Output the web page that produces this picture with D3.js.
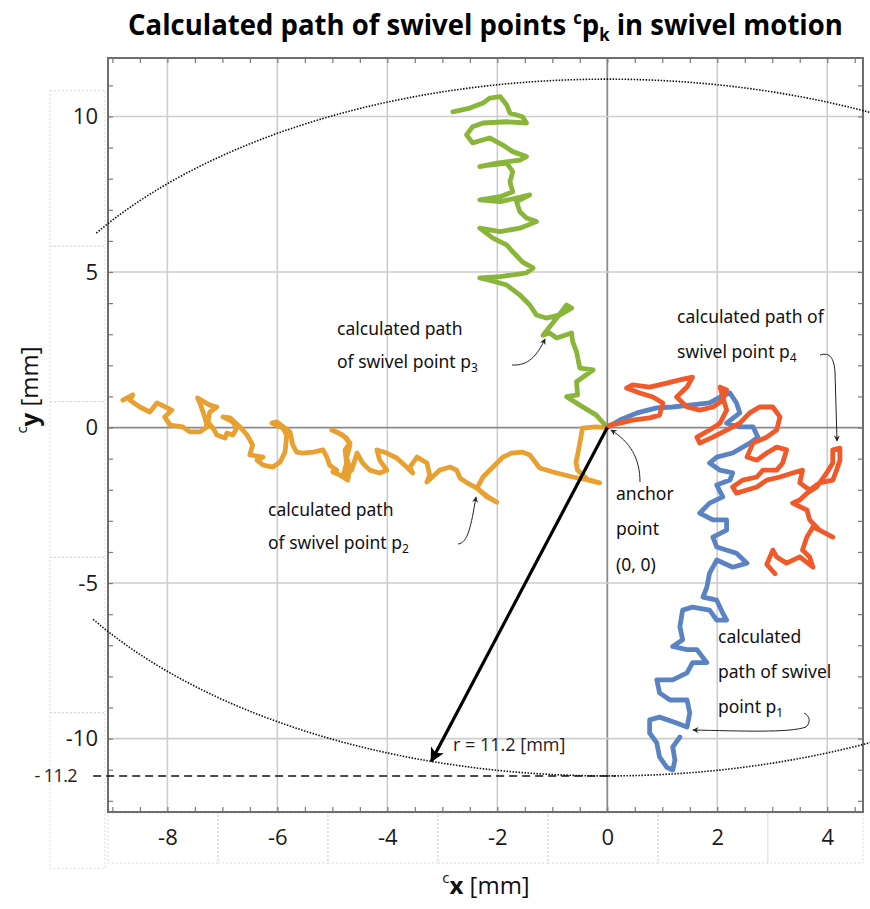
<!DOCTYPE html>
<html>
<head>
<meta charset="utf-8">
<script src="https://cdn.jsdelivr.net/npm/d3@7"></script>
<style>
  html, body { margin: 0; padding: 0; background: #fff; }
  svg { display: block; }
</style>
</head>
<body>
<svg id="chart" width="870" height="909"></svg>
<script>
// ---- axis ticks -------------------------------------------------------
const xTicks = [-8, -6, -4, -2, 0, 2, 4];
const yTicks = [10, 5, 0, -5, -10];
const radius = 11.2;            // swivel radius [mm]

// ---- calculated swivel point paths [x, y] in mm -----------------------
// p1 (blue)
const pathP1 = [
  [0,0],[0.26,0.27],[0.54,0.47],[0.90,0.63],[1.19,0.66],[1.50,0.72],[1.86,0.79],[2.05,0.98],
  [2.23,1.11],[2.35,0.79],[2.41,0.47],[2.17,0.14],[2.41,0.02],[2.65,0.02],[2.74,-0.31],[2.59,-0.50],
  [2.28,-0.82],[1.99,-0.95],[1.86,-1.14],[2.05,-1.37],[2.28,-1.46],[2.23,-1.69],[1.99,-1.85],[2.10,-2.23],
  [1.86,-2.43],[1.68,-2.75],[1.92,-2.97],[2.17,-2.97],[2.17,-3.30],[1.92,-3.52],[1.99,-3.84],[2.35,-4.04],
  [2.54,-4.36],[2.28,-4.49],[1.99,-4.26],[1.86,-4.68],[1.81,-5.13],[1.74,-5.45],[1.99,-5.55],[2.10,-5.97],
  [2.17,-6.19],[1.99,-6.19],[1.86,-5.87],[1.55,-5.77],[1.37,-5.87],[1.32,-6.40],[1.37,-6.82],[1.19,-7.04],
  [1.45,-7.14],[1.63,-7.14],[1.81,-7.56],[1.55,-7.56],[1.45,-7.89],[1.19,-8.11],[0.90,-8.11],[0.95,-8.53],
  [1.14,-8.76],[1.45,-8.76],[1.50,-9.18],[1.45,-9.63],[1.26,-9.50],[0.95,-9.31],[0.77,-9.40],[0.77,-9.82],
  [0.90,-10.14],[0.95,-10.59],[1.08,-10.92],[1.19,-11.01],[1.23,-10.69],[1.19,-10.27],[1.32,-9.95]
];
// p2 (orange)
const pathP2 = [
  [-8.81,0.88],[-8.63,1.05],[-8.68,0.88],[-8.50,0.66],[-8.32,0.50],[-8.19,0.79],[-7.92,0.56],[-8.05,0.34],
  [-7.95,0.08],[-7.72,0.02],[-7.59,-0.14],[-7.41,-0.14],[-7.28,0.02],[-7.32,0.34],[-7.41,0.79],[-7.45,0.95],
  [-7.23,0.72],[-7.10,0.66],[-7.23,0.50],[-7.26,0.18],[-7.17,-0.02],[-7.10,-0.24],[-6.95,-0.34],[-6.92,-0.18],
  [-6.81,-0.24],[-6.74,-0.02],[-6.81,0.18],[-6.99,0.34],[-6.86,0.31],[-6.68,0.02],[-6.55,-0.24],[-6.45,-0.56],
  [-6.50,-0.88],[-6.26,-0.95],[-6.37,-1.05],[-6.26,-1.21],[-6.08,-1.27],[-5.95,-1.11],[-5.86,-0.79],[-5.83,-0.24],
  [-5.90,-0.02],[-6.10,0.14],[-6.01,0.18],[-5.77,-0.14],[-5.72,-0.56],[-5.65,-0.79],[-5.54,-0.82],[-5.35,-0.79],
  [-5.17,-0.72],[-5.10,-0.95],[-5.05,-1.21],[-4.92,-1.37],[-4.99,-1.43],[-4.86,-1.53],[-4.72,-1.69],[-4.68,-1.30],
  [-4.74,-0.98],[-4.68,-0.56],[-4.74,-0.34],[-4.92,-0.14],[-5.01,-0.08],[-4.81,-0.24],[-4.68,-0.50],[-4.77,-0.72],
  [-4.74,-1.14],[-4.81,-1.59],[-4.65,-1.37],[-4.55,-0.82],[-4.45,-1.14],[-4.32,-1.37],[-4.14,-1.46],[-4.01,-1.37],
  [-4.14,-1.05],[-4.19,-0.72],[-4.01,-0.82],[-3.83,-0.98],[-3.65,-1.27],[-3.54,-1.46],[-3.59,-1.27],[-3.46,-0.95],
  [-3.28,-1.14],[-3.23,-1.53],[-3.28,-1.75],[-3.05,-1.37],[-2.86,-1.27],[-2.74,-1.37],[-2.68,-1.62],[-2.55,-1.78],
  [-2.37,-1.95],[-2.19,-2.23],[-2.01,-2.40],[-2.19,-2.20],[-2.37,-1.95],[-2.26,-1.59],[-2.08,-1.27],[-1.90,-0.95],
  [-1.74,-0.82],[-1.55,-0.79],[-1.41,-0.88],[-1.23,-1.30],[-0.99,-1.43],[-0.63,-1.59],[-0.32,-1.69],[-0.14,-1.78],
  [-0.35,-1.69],[-0.54,-1.37],[-0.57,-1.11],[-0.54,-0.88],[-0.50,-0.50],[-0.45,-0.02],[-0.21,0.02],[0,0]
];
// p3 (green)
const pathP3 = [
  [0,0],[-0.20,0.40],[-0.50,0.72],[-0.74,0.99],[-0.54,1.05],[-0.56,1.47],[-0.26,1.85],[-0.50,1.91],
  [-0.56,2.44],[-0.63,2.76],[-0.65,3.04],[-0.92,2.88],[-1.05,3.04],[-1.17,2.97],[-0.92,3.52],[-0.74,3.94],
  [-0.65,3.84],[-0.86,3.62],[-1.11,3.52],[-1.29,3.62],[-1.41,3.94],[-1.59,4.26],[-1.83,4.58],[-2.14,4.74],
  [-2.32,4.81],[-1.95,4.85],[-1.47,4.97],[-1.35,5.13],[-1.54,5.32],[-1.72,5.65],[-1.83,5.87],[-2.08,6.09],
  [-2.32,6.41],[-1.95,6.30],[-1.59,6.41],[-1.29,6.62],[-1.47,6.74],[-1.59,6.94],[-1.65,7.26],[-1.41,7.48],
  [-1.65,7.38],[-1.95,7.26],[-2.32,7.32],[-1.95,7.42],[-1.72,7.58],[-1.77,7.90],[-1.72,8.23],[-1.83,8.50],
  [-2.14,8.44],[-2.32,8.39],[-2.01,8.50],[-1.59,8.60],[-1.47,8.71],[-1.72,8.87],[-1.90,9.08],[-2.14,9.31],
  [-2.45,9.15],[-2.56,9.41],[-2.45,9.67],[-2.26,9.79],[-1.83,9.83],[-1.47,9.79],[-1.54,9.99],[-1.77,10.11],
  [-1.83,10.37],[-1.95,10.64],[-2.14,10.59],[-2.26,10.43],[-2.50,10.27],[-2.81,10.15]
];
// p4 (red)
const pathP4 = [
  [0,0],[0.05,0.08],[0.23,0.14],[0.46,0.24],[0.77,0.31],[0.95,0.40],[1.01,0.79],[0.83,0.98],
  [0.59,1.11],[0.35,1.27],[0.46,1.37],[0.77,1.30],[1.08,1.43],[1.32,1.53],[1.55,1.62],[1.45,1.30],
  [1.26,0.98],[1.45,0.66],[1.68,0.56],[1.92,0.66],[2.10,0.88],[2.17,1.21],[2.05,1.30],[2.10,0.98],
  [2.17,0.56],[2.05,0.14],[1.86,-0.08],[1.63,-0.31],[1.68,-0.50],[1.92,-0.31],[2.17,-0.08],[2.41,0.14],
  [2.59,0.47],[2.77,0.66],[3.01,0.66],[3.14,0.34],[3.08,-0.08],[2.90,-0.31],[2.65,-0.50],[2.54,-0.95],
  [2.72,-1.05],[2.90,-0.82],[3.08,-0.63],[3.26,-0.72],[3.19,-1.14],[3.08,-1.37],[2.83,-1.37],[2.72,-1.59],
  [2.46,-1.69],[2.28,-1.91],[2.35,-2.11],[2.54,-2.01],[2.72,-1.91],[2.90,-1.69],[3.14,-1.59],[3.37,-1.46],
  [3.55,-1.37],[3.50,-1.78],[3.68,-2.01],[3.86,-1.78],[4.10,-1.69],[4.17,-1.37],[4.23,-1.05],[4.23,-0.66],
  [4.10,-0.72],[4.10,-1.14],[3.99,-1.46],[3.81,-1.91],[3.63,-2.11],[3.50,-2.33],[3.37,-2.43],[3.63,-2.65],
  [3.68,-2.97],[3.86,-3.30],[4.10,-3.52],[3.86,-3.30],[3.74,-3.20],[3.63,-3.52],[3.55,-3.94],[3.68,-4.16],
  [3.74,-4.49],[3.50,-4.16],[3.26,-4.36],[3.08,-4.16],[3.01,-3.94],[2.90,-4.40],[3.05,-4.70]
];

const series = [
  { name: "p2", data: pathP2, color: "#e8a131" },
  { name: "p3", data: pathP3, color: "#8ab53b" },
  { name: "p1", data: pathP1, color: "#5a83c4" },
  { name: "p4", data: pathP4, color: "#f05a2a" }
];

// tip of the radius arrow (on the swivel circle)
const radiusTip = [-3.2, -10.73];

// ---- layout -----------------------------------------------------------
const svg = d3.select("#chart");
const x = d3.scaleLinear().domain([-9.08, 4.65]).range([108, 863]);
const y = d3.scaleLinear().domain([-12.36, 11.88]).range([812, 58]);
const [xLeft, xRight] = x.range();
const [yBottom, yTop] = y.range();

svg.append("rect").attr("width", 870).attr("height", 909).attr("fill", "#fff");

const defs = svg.append("defs");
defs.append("marker").attr("id", "bigHead")
  .attr("viewBox", "0 0 10 10").attr("refX", 9).attr("refY", 5)
  .attr("markerWidth", 5).attr("markerHeight", 4.5).attr("markerUnits", "strokeWidth")
  .attr("orient", "auto")
  .append("path").attr("d", "M0,0 L10,5 L0,10 L2.5,5 Z").attr("fill", "#000");
defs.append("marker").attr("id", "smallHead")
  .attr("viewBox", "0 0 10 10").attr("refX", 9).attr("refY", 5)
  .attr("markerWidth", 7).attr("markerHeight", 6).attr("markerUnits", "userSpaceOnUse")
  .attr("orient", "auto")
  .append("path").attr("d", "M0,0 L10,5 L0,10 L3,5 Z").attr("fill", "#222");

// dotted label cells
const cells = svg.append("g").attr("fill", "none").attr("stroke", "#cfcfcf")
  .attr("stroke-width", 0.8).attr("stroke-dasharray", "2,2");
yTicks.forEach(t => {
  cells.append("rect").attr("x", 50).attr("width", 55)
    .attr("y", y(t + 0.83)).attr("height", y(t - 4.17) - y(t + 0.83));
});
d3.range(x.domain()[0], x.domain()[1], 2).forEach(v => {
  const a = x(v), b = Math.min(x(v + 2), xRight);
  cells.append("rect").attr("x", a).attr("width", b - a).attr("y", yBottom + 1).attr("height", 50);
});

// grid
const grid = svg.append("g");
xTicks.forEach(t => {
  grid.append("line").attr("x1", x(t)).attr("x2", x(t)).attr("y1", yTop).attr("y2", yBottom)
    .attr("stroke", t === 0 ? "#8a8a8a" : "#cdcdcd").attr("stroke-width", t === 0 ? 1.8 : 1.6);
});
yTicks.forEach(t => {
  grid.append("line").attr("y1", y(t)).attr("y2", y(t)).attr("x1", xLeft).attr("x2", xRight)
    .attr("stroke", t === 0 ? "#8a8a8a" : "#cdcdcd").attr("stroke-width", t === 0 ? 1.8 : 1.6);
});

// minor ticks on all four sides (inward)
const minorX = d3.range(-9, 4.6, 0.5);
const minorY = d3.range(-12, 11.5, 1);
const tickStyle = g => g.call(s => s.select(".domain").remove())
  .call(s => s.selectAll("text").remove())
  .call(s => s.selectAll("line").attr("stroke", "#7a7a7a").attr("stroke-width", 1.2));
svg.append("g").attr("transform", `translate(0,${yBottom})`)
  .call(d3.axisBottom(x).tickValues(minorX).tickSize(-5)).call(tickStyle);
svg.append("g").attr("transform", `translate(0,${yTop})`)
  .call(d3.axisTop(x).tickValues(minorX).tickSize(-5)).call(tickStyle);
svg.append("g").attr("transform", `translate(${xLeft},0)`)
  .call(d3.axisLeft(y).tickValues(minorY).tickSize(-5)).call(tickStyle);
svg.append("g").attr("transform", `translate(${xRight},0)`)
  .call(d3.axisRight(y).tickValues(minorY).tickSize(-5)).call(tickStyle);

// frame
svg.append("rect").attr("x", xLeft).attr("y", yTop).attr("width", xRight - xLeft).attr("height", yBottom - yTop)
  .attr("fill", "none").attr("stroke", "#6e6e6e").attr("stroke-width", 2);

// tick labels
const fmt = d => d < 0 ? "-" + Math.abs(d) : String(d);
svg.append("g").attr("transform", `translate(0,${yBottom})`)
  .call(d3.axisBottom(x).tickValues(xTicks).tickSize(0).tickPadding(17).tickFormat(fmt))
  .call(g => g.select(".domain").remove())
  .call(g => g.selectAll("text").attr("font-family", "'Open Sans', sans-serif")
    .attr("font-size", 22).attr("fill", "#1a1a1a"));
svg.append("g").attr("transform", `translate(${xLeft},0)`)
  .call(d3.axisLeft(y).tickValues(yTicks).tickSize(0).tickPadding(10).tickFormat(fmt))
  .call(g => g.select(".domain").remove())
  .call(g => g.selectAll("text").attr("font-family", "'Open Sans', sans-serif")
    .attr("font-size", 22).attr("fill", "#1a1a1a"));

// swivel circle r = 11.2 mm (dotted), open on the far left
const cut = Math.acos(9.35 / radius);
const ring = d3.range(-(Math.PI - cut), Math.PI - cut + 1e-9, 0.01)
  .map(a => [radius * Math.cos(a), radius * Math.sin(a)]);
svg.append("path")
  .attr("d", d3.line().x(d => x(d[0])).y(d => y(d[1]))(ring))
  .attr("fill", "none").attr("stroke", "#111").attr("stroke-width", 1.6)
  .attr("stroke-dasharray", "1.5,1.5");

// level line at -r
svg.append("line").attr("x1", x(-9.35)).attr("x2", x(0.15))
  .attr("y1", y(-radius)).attr("y2", y(-radius))
  .attr("stroke", "#111").attr("stroke-width", 1.5).attr("stroke-dasharray", "8,5");
svg.append("text").attr("x", 77).attr("y", y(-radius)).attr("dy", "0.35em")
  .attr("text-anchor", "end").attr("font-family", "'Open Sans', sans-serif")
  .attr("font-size", 18).attr("letter-spacing", -0.6).attr("fill", "#222")
  .text("- " + radius);

// swivel paths
const line = d3.line().x(d => x(d[0])).y(d => y(d[1]));
svg.append("g").selectAll("path").data(series).join("path")
  .attr("d", d => line(d.data))
  .attr("fill", "none").attr("stroke", d => d.color).attr("stroke-width", 4.8)
  .attr("stroke-linejoin", "round").attr("stroke-linecap", "round");

// radius arrow
svg.append("line").attr("x1", x(0)).attr("y1", y(0))
  .attr("x2", x(radiusTip[0])).attr("y2", y(radiusTip[1]))
  .attr("stroke", "#000").attr("stroke-width", 3.2).attr("marker-end", "url(#bigHead)");
svg.append("text").attr("x", 453).attr("y", 751)
  .attr("font-family", "'Open Sans', sans-serif")
  .attr("font-size", 18).attr("fill", "#222").text(`r = ${radius} [mm]`);

// annotations
const note = svg.append("g").attr("font-family", "'Noto Sans', sans-serif")
  .attr("font-size", 17.5).attr("fill", "#111");
function label(xp, yp, parts) {
  const t = note.append("text").attr("x", xp).attr("y", yp);
  parts.forEach(p => {
    if (typeof p === "string") t.append("tspan").text(p);
    else t.append("tspan").attr("font-size", 12).attr("dy", 4).text(p.sub);
  });
  return t;
}
label(337, 335, ["calculated path"]);
label(337, 368, ["of swivel point  p", { sub: "3" }]);
label(677, 323, ["calculated path of"]);
label(677, 358, ["swivel point  p", { sub: "4" }]);
label(268, 516, ["calculated path"]);
label(268, 549, ["of swivel point  p", { sub: "2" }]);
label(616, 500, ["anchor"]);
label(616, 535, ["point"]);
label(616, 571, ["(0, 0)"]);
label(718, 643, ["calculated"]);
label(718, 678, ["path of swivel"]);
label(718, 713, ["point  p", { sub: "1" }]);

const lead = svg.append("g").attr("fill", "none").attr("stroke", "#222").attr("stroke-width", 1);
[
  "M512,365 C528,366 537,356 545,339",
  "M820,355 C830,352 834,358 835,372 L837,441",
  "M458,544 C468,543 471,526 476,497",
  "M640,482 C640,458 630,442 611,430",
  "M804,713 C810,716 811,722 806,727 C790,733 740,731 693,730"
].forEach(d => lead.append("path").attr("d", d).attr("marker-end", "url(#smallHead)"));

// axis titles
const xt = svg.append("text").attr("x", 486).attr("y", 894).attr("text-anchor", "middle")
  .attr("font-family", "'Open Sans', sans-serif").attr("font-size", 24).attr("fill", "#111");
xt.append("tspan").attr("font-size", 15).attr("dy", -11).text("c");
xt.append("tspan").attr("font-weight", "bold").attr("dy", 11).text("x");
xt.append("tspan").text(" [mm]");

const yt = svg.append("text").attr("transform", "translate(38,390) rotate(-90)")
  .attr("text-anchor", "middle")
  .attr("font-family", "'Open Sans', sans-serif").attr("font-size", 24).attr("fill", "#111");
yt.append("tspan").attr("font-size", 15).attr("dy", -11).text("c");
yt.append("tspan").attr("font-weight", "bold").attr("dy", 11).text("y");
yt.append("tspan").text(" [mm]");

// chart title
const title = svg.append("text").attr("font-family", "'Open Sans', sans-serif")
  .attr("font-weight", "bold").attr("font-size", 28).attr("fill", "#000");
title.append("tspan").text("Calculated path of swivel points ");
title.append("tspan").attr("font-size", 17).attr("dy", -11).text("c");
title.append("tspan").attr("dy", 11).text("p");
title.append("tspan").attr("font-size", 17).attr("dy", 6).text("k");
title.append("tspan").attr("dy", -6).text(" in swivel motion");
const tw = title.node().getBBox().width;
title.attr("transform", `translate(128,35) scale(${715 / tw},1)`);
</script>
</body>
</html>
